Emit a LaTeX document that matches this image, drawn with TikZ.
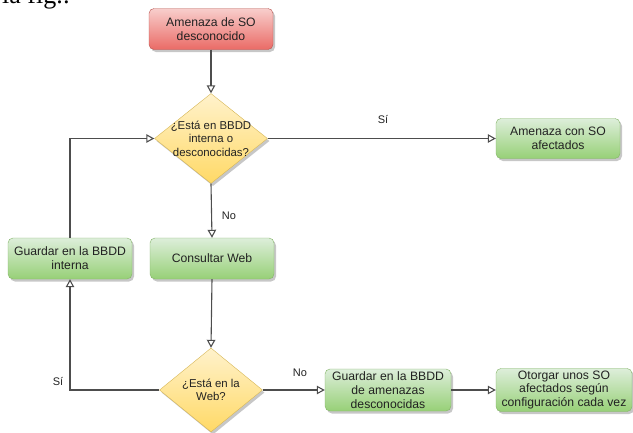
\documentclass[tikz,border=0pt]{standalone}
\usepackage{fontspec}
\setmainfont{Liberation Sans}
\newfontfamily\bodyserif{Liberation Serif}
\usetikzlibrary{shapes.geometric,arrows.meta,shadows}

\definecolor{lineclr}{HTML}{4D4D4D}
\definecolor{txt}{HTML}{222222}
\definecolor{greentop}{HTML}{DDEEDA}
\definecolor{greenbot}{HTML}{97D077}
\definecolor{greenline}{HTML}{82B366}
\definecolor{redtop}{HTML}{F8CECC}
\definecolor{redbot}{HTML}{EA6B66}
\definecolor{redline}{HTML}{B85450}
\definecolor{yeltop}{HTML}{FFF2CC}
\definecolor{yelbot}{HTML}{FFD966}
\definecolor{yelline}{HTML}{D6B656}

\begin{document}
\begin{tikzpicture}[x=1pt,y=-1pt,
  softshadow/.style={drop shadow={shadow xshift=2pt,shadow yshift=-2.5pt,opacity=0.22,fill=black}},
  procbox/.style={rounded corners=5pt, align=center, inner sep=2pt, text=txt,
    font=\fontsize{12.2}{14}\selectfont, minimum height=41pt, softshadow},
  greenbox/.style={procbox, draw=greenline, top color=greentop, bottom color=greenbot},
  redbox/.style={procbox, draw=redline, top color=redtop, bottom color=redbot},
  decision/.style={diamond, draw=yelline, top color=yeltop, bottom color=yelbot,
    align=center, text=txt, inner sep=-5pt, font=\fontsize{11.4}{13.5}\selectfont, softshadow},
  flow/.style={draw=lineclr, line width=1.1pt, -{Triangle[open,length=8pt,width=8.5pt]}},
  lbl/.style={text=txt, font=\fontsize{11}{13}\selectfont, inner sep=1pt}
]
\useasboundingbox (0,0) rectangle (633,432);

% fragment of the surrounding text, cut by the page edge
\begin{scope}
\clip (0,0) rectangle (633,432);
\node[anchor=base west, inner sep=0, font=\bodyserif\fontsize{26}{28}\selectfont] (figref) at (2,3) {la fig.:};
\end{scope}

% nodes
\node[redbox, minimum width=124pt] (threat) at (211,29) {Amenaza de SO\\desconocido};
\node[decision, minimum width=113pt, minimum height=90pt, shape aspect=1.256] (q1) at (211,138.5) {¿Está en BBDD\\interna o\\desconocidas?};
\node[greenbox, minimum width=124pt, minimum height=40pt] (known) at (558,138.5) {Amenaza con SO\\afectados};
\node[greenbox, minimum width=124pt] (web) at (212,258.5) {Consultar Web};
\node[greenbox, minimum width=124pt] (guard1) at (70,258.5) {Guardar en la BBDD\\interna};
\node[decision, minimum width=103pt, minimum height=84pt, shape aspect=1.226] (q2) at (211,390) {¿Está en la\\Web?};
\node[greenbox, minimum width=126pt, minimum height=42pt] (guard2) at (388,390) {Guardar en la BBDD\\de amenazas\\desconocidas};
\node[greenbox, minimum width=136pt, minimum height=42pt] (assign) at (564,390) {Otorgar unos SO\\afectados según\\configuración cada vez};

% connectors
\draw[flow] (threat.south) -- (q1.north);
\draw[flow] (q1.east) -- (known.west);
\draw[flow] (q1.south) -- (web.north);
\draw[flow] (web.south) -- (q2.north);
\draw[flow] (q2.west) -| (guard1.south);
\draw[flow] (guard1.north) |- (q1.west);
\draw[flow] (q2.east) -- (guard2.west);
\draw[flow] (guard2.east) -- (assign.west);

% branch labels
\node[lbl] (yes1) at (383,119) {Sí};
\node[lbl] (no1) at (229,216) {No};
\node[lbl] (yes2) at (58,381) {Sí};
\node[lbl] (no2) at (300,373) {No};
\end{tikzpicture}
\end{document}
